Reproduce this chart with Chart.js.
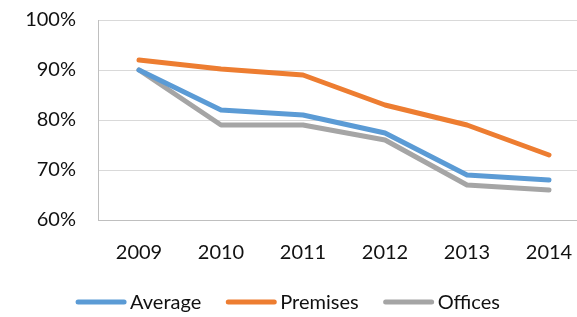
<!DOCTYPE html>
<html>
<head>
<meta charset="utf-8">
<script src="https://cdn.jsdelivr.net/npm/chart.js@4"></script>
<style>
  html, body { margin: 0; padding: 0; background: #fff; overflow: hidden; }
  #wrap { width: 592px; height: 317px; position: relative; }
</style>
</head>
<body>
<div id="wrap"><canvas id="lineChart"></canvas></div>
<script>
// DATA
let years = ['2009', '2010', '2011', '2012', '2013', '2014'];
let average = [90, 82, 81, 77.4, 69, 68];
let premises = [92, 90.2, 89, 83, 79, 73];
let offices = [90, 79, 79, 76, 67, 66];

let font = { family: 'Lato, sans-serif', size: 20 };
let textColor = '#111';

let ctx = document.querySelector('#lineChart').getContext('2d');

function series(label, values, color) {
    return {
        label: label,
        data: values,
        borderColor: color,
        backgroundColor: color,
        borderWidth: 5,
        borderCapStyle: 'round',
        borderJoinStyle: 'round',
        pointRadius: 0,
        tension: 0
    };
}

// legend drawn under the axis, Excel style (line sample + name)
let bottomLegend = {
    id: 'bottomLegend',
    afterDraw(chart) {
        let c = chart.ctx;
        let sets = chart.data.datasets;
        let lineLen = 46, gap = 6, between = 27;
        c.save();
        c.font = '20px Lato, sans-serif';
        c.textBaseline = 'middle';
        let widths = sets.map(d => c.measureText(d.label).width);
        let total = widths.reduce((a, w) => a + lineLen + gap + w, 0) + between * (sets.length - 1);
        let x = 289 - total / 2;
        let y = 302;
        sets.forEach((d, i) => {
            c.strokeStyle = d.borderColor;
            c.lineWidth = 5;
            c.lineCap = 'round';
            c.beginPath();
            c.moveTo(x, y);
            c.lineTo(x + lineLen, y);
            c.stroke();
            c.fillStyle = textColor;
            c.fillText(d.label, x + lineLen + gap, y + 1);
            x += lineLen + gap + widths[i] + between;
        });
        c.restore();
    }
};

let lineChart = new Chart(ctx, {
    type: 'line',
    data: {
        labels: years,
        datasets: [
            series('Average', average, '#5B9BD5'),
            series('Premises', premises, '#ED7D31'),
            series('Offices', offices, '#A5A5A5')
        ]
    },
    options: {
        responsive: true,
        maintainAspectRatio: false,
        animation: false,
        layout: {
            padding: { left: 0, right: 2, top: 20, bottom: 47 }
        },
        plugins: {
            tooltip: { enabled: false },
            legend: { display: false }
        },
        scales: {
            x: {
                offset: true,
                grid: { display: false },
                border: { display: true, color: '#bfbfbf', width: 1 },
                ticks: { color: textColor, font: font, padding: 13, maxRotation: 0 },
                afterFit: (s) => { s.height = 50; }
            },
            y: {
                min: 60,
                max: 100,
                grid: { color: '#d9d9d9', lineWidth: 1, drawTicks: false },
                border: { display: true, color: '#bfbfbf', width: 1 },
                ticks: {
                    stepSize: 10,
                    color: textColor,
                    font: font,
                    padding: 22,
                    callback: (v) => v + '%'
                },
                afterFit: (s) => {
                    s.width = 98;
                    s.paddingTop = 0;
                    s.paddingBottom = 0;
                }
            }
        }
    },
    plugins: [bottomLegend]
});
</script>
</body>
</html>
